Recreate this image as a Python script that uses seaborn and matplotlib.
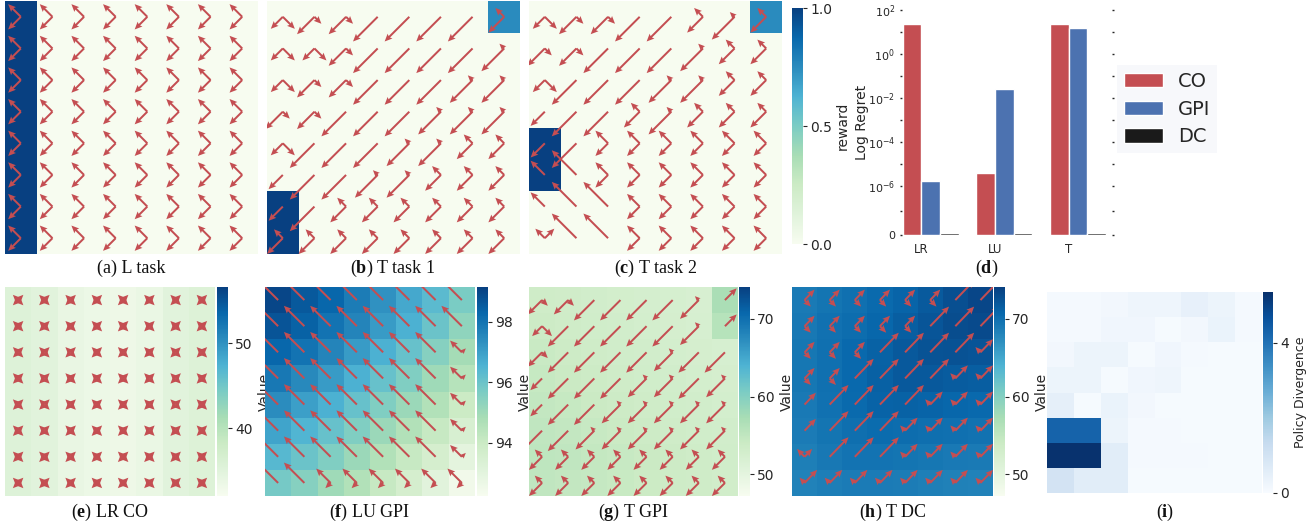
import numpy as np
import pandas as pd
import matplotlib
matplotlib.use("Agg")
import matplotlib.pyplot as plt
import seaborn as sns

# ---- data -------------------------------------------------------------
# reward maps of the three tasks (8x8 grid worlds)
reward_l = [
    [1, 0, 0, 0, 0, 0, 0, 0],
    [1, 0, 0, 0, 0, 0, 0, 0],
    [1, 0, 0, 0, 0, 0, 0, 0],
    [1, 0, 0, 0, 0, 0, 0, 0],
    [1, 0, 0, 0, 0, 0, 0, 0],
    [1, 0, 0, 0, 0, 0, 0, 0],
    [1, 0, 0, 0, 0, 0, 0, 0],
    [1, 0, 0, 0, 0, 0, 0, 0],
]
reward_t1 = [
    [0, 0, 0, 0, 0, 0, 0, 0.75],
    [0, 0, 0, 0, 0, 0, 0, 0],
    [0, 0, 0, 0, 0, 0, 0, 0],
    [0, 0, 0, 0, 0, 0, 0, 0],
    [0, 0, 0, 0, 0, 0, 0, 0],
    [0, 0, 0, 0, 0, 0, 0, 0],
    [1, 0, 0, 0, 0, 0, 0, 0],
    [1, 0, 0, 0, 0, 0, 0, 0],
]
reward_t2 = [
    [0, 0, 0, 0, 0, 0, 0, 0.75],
    [0, 0, 0, 0, 0, 0, 0, 0],
    [0, 0, 0, 0, 0, 0, 0, 0],
    [0, 0, 0, 0, 0, 0, 0, 0],
    [1, 0, 0, 0, 0, 0, 0, 0],
    [1, 0, 0, 0, 0, 0, 0, 0],
    [0, 0, 0, 0, 0, 0, 0, 0],
    [0, 0, 0, 0, 0, 0, 0, 0],
]

# value maps
value_lr_co = [
    [35.5, 35.0, 34.0, 33.5, 33.3, 33.8, 35.0, 35.6],
    [35.5, 35.0, 34.0, 33.5, 33.3, 33.8, 35.0, 35.6],
    [35.5, 35.0, 34.0, 33.5, 33.3, 33.8, 35.0, 35.6],
    [35.5, 35.0, 34.0, 33.5, 33.3, 33.8, 35.0, 35.6],
    [35.5, 35.0, 34.0, 33.5, 33.3, 33.8, 35.0, 35.6],
    [35.5, 35.0, 34.0, 33.5, 33.3, 33.8, 35.0, 35.6],
    [35.5, 35.0, 34.0, 33.5, 33.3, 33.8, 35.0, 35.6],
    [35.5, 35.0, 34.0, 33.5, 33.3, 33.8, 35.0, 35.6],
]
value_lu_gpi = [
    [99.0, 98.6, 98.3, 97.8, 97.3, 96.8, 96.3, 95.7],
    [98.7, 98.4, 98.0, 97.6, 97.1, 96.6, 96.0, 95.3],
    [98.3, 98.0, 97.6, 97.1, 96.6, 96.1, 95.5, 94.9],
    [97.9, 97.5, 97.1, 96.6, 96.1, 95.6, 95.0, 94.5],
    [97.4, 97.0, 96.6, 96.1, 95.6, 95.1, 94.6, 94.0],
    [96.9, 96.5, 96.1, 95.6, 95.1, 94.6, 94.1, 93.5],
    [96.4, 96.0, 95.6, 95.1, 94.6, 94.1, 93.6, 93.0],
    [95.8, 95.5, 95.0, 94.6, 94.1, 93.6, 93.1, 92.5],
]
value_t_gpi = [
    [53.5, 53.3, 53.0, 52.8, 52.6, 52.4, 52.2, 57.0],
    [53.8, 53.5, 53.2, 53.0, 52.7, 52.5, 52.3, 56.0],
    [54.2, 53.8, 53.5, 53.2, 53.0, 52.7, 52.5, 52.3],
    [54.5, 54.1, 53.8, 53.5, 53.2, 53.0, 52.7, 52.5],
    [54.8, 54.5, 54.1, 53.8, 53.5, 53.2, 53.0, 52.7],
    [55.0, 54.8, 54.4, 54.1, 53.8, 53.5, 53.2, 53.0],
    [55.2, 55.0, 54.7, 54.4, 54.1, 53.8, 53.5, 53.2],
    [55.0, 54.8, 54.6, 54.3, 54.0, 53.7, 53.4, 53.1],
]
value_t_dc = [
    [69.0, 69.5, 70.0, 70.5, 71.0, 71.8, 72.8, 73.5],
    [69.2, 69.8, 70.3, 70.8, 71.5, 72.3, 73.0, 73.2],
    [69.3, 70.0, 70.6, 71.2, 71.9, 72.5, 72.6, 72.4],
    [69.3, 70.0, 70.6, 71.3, 71.9, 71.9, 71.7, 71.5],
    [69.1, 69.8, 70.5, 71.1, 71.2, 71.0, 70.8, 70.6],
    [68.9, 69.5, 70.1, 70.4, 70.3, 70.1, 69.9, 69.7],
    [68.6, 69.2, 69.6, 69.6, 69.5, 69.3, 69.1, 69.0],
    [68.3, 68.7, 68.9, 68.9, 68.8, 68.6, 68.4, 68.3],
]
policy_div = [
    [0.10, 0.10, 0.15, 0.25, 0.25, 0.45, 0.30, 0.10],
    [0.10, 0.10, 0.20, 0.20, 0.05, 0.15, 0.35, 0.10],
    [0.15, 0.30, 0.30, 0.05, 0.20, 0.10, 0.05, 0.05],
    [0.30, 0.30, 0.05, 0.20, 0.25, 0.05, 0.05, 0.05],
    [0.50, 0.05, 0.35, 0.15, 0.05, 0.05, 0.05, 0.05],
    [4.30, 4.30, 0.30, 0.10, 0.10, 0.05, 0.05, 0.05],
    [5.30, 5.30, 0.60, 0.10, 0.10, 0.10, 0.05, 0.05],
    [1.00, 0.60, 0.60, 0.05, 0.05, 0.05, 0.05, 0.05],
]

# policy glyph per cell (see GLYPHS below)
policy_l = [">>>>>>>>"] * 8
policy_t1 = ["^hhLLLLk", "^^hLLLLl", "^hhLLLll", "hhLLLlll",
             "^LLLllkk", "sLLllkkk", "sLkkkkkk", "kkkkkkkk"]
policy_t2 = ["^hhLLklk", "hhLLLlkk", "^LLLllkk", "sLLklkkk",
             "sL>>>>>>", "nN>>>>>>", "nNN>>>>>", "vNN>>>>>"]
policy_lr_co = ["xxxxxxxx"] * 8
policy_lu_gpi = ["NNNNNNNN", "NNNNNNNN", "NNNNNNNc", "NNNNNNNc",
                 "NNNNNNNc", "NNNNNNNc", "NNNNNNNc", "NNrrrrrr"]
policy_t_gpi = ["hhLLLLlu", "^LLLLLlu", "hLLLLlLL", "sLLLllLl",
                "sLLlllll", "LLllllll", "kkkkkkkk", "kkkkkkkk"]
policy_t_dc = ["ggggggUU", "gggggUUU", "gggUUUUC", "ggUUUUCC",
               "uUUUUCCC", "uUUUCCCC", "vUUUCCCC", "CCCCCCCC"]

# bar chart (d)
tasks = ["LR", "LU", "T"]
methods = ["CO", "GPI", "DC"]
regret_co = [22, 3.8e-6, 22]
regret_gpi = [1.7e-6, 2.5e-2, 16]
regret_dc = [4e-8, 4e-8, 4e-8]

# ---- style ------------------------------------------------------------
RED = "#c44e52"
BAR_COLORS = ["#c44e52", "#4c72b0", "#1a1a1a"]
# arm lengths (in cells) of the arrows NE, NW, SW, SE drawn from a cell centre
GLYPHS = {
    ">": (0, .4, .4, 0), "k": (0, .28, .5, 0), "l": (0, .15, .72, 0),
    "L": (0, 0, .78, 0), "s": (0, 0, .45, 0), "^": (0, 0, .38, .38),
    "h": (0, 0, .55, .22), "n": (0, .45, 0, 0), "N": (0, .78, 0, 0),
    "r": (0, .55, .2, 0), "c": (.15, .45, 0, 0), "v": (.3, .3, 0, 0),
    "g": (.4, 0, 0, .25), "U": (.75, 0, 0, 0), "u": (.45, 0, 0, 0),
    "C": (.5, .2, 0, 0), "x": (.2, .2, .2, .2),
}
DIRS = [(1, 1), (-1, 1), (-1, -1), (1, -1)]

sns.set_style("white")
plt.rcParams["font.family"] = ["DejaVu Sans"]
plt.rcParams["mathtext.fontset"] = "custom"
plt.rcParams["mathtext.rm"] = "DejaVu Sans"
plt.rcParams["mathtext.it"] = "DejaVu Sans:italic"
plt.rcParams["mathtext.bf"] = "Liberation Serif:bold"

W, H = 1314, 526
fig = plt.figure(figsize=(W / 100, H / 100), dpi=100)


def pxAxes(x0, y0, x1, y1):
    return fig.add_axes([x0 / W, 1 - y1 / H, (x1 - x0) / W, (y1 - y0) / H])


def drawPolicy(ax, grid):
    xs, ys, us, vs = [], [], [], []
    for i, row in enumerate(grid):
        for j, code in enumerate(row):
            for (dx, dy), length in zip(DIRS, GLYPHS[code]):
                if length > 0:
                    xs.append(j + 0.5)
                    ys.append(i + 0.5)
                    us.append(dx * length)
                    vs.append(-dy * length)  # heatmap y axis points down
    ax.quiver(xs, ys, us, vs, angles="xy", scale_units="xy", scale=1,
              color=RED, units="dots", width=2.0, headwidth=3.4,
              headlength=3.8, headaxislength=3.3, zorder=3)


def styleCbar(cax, labelSize=10):
    cax.tick_params(axis="y", right=True, length=3, width=0.8,
                    labelsize=10, pad=2, color=".15")
    cax.yaxis.label.set_size(labelSize)


# ---- top row: tasks ---------------------------------------------------
top = [(5, 258, reward_l, policy_l), (267, 520, reward_t1, policy_t1),
       (529, 782, reward_t2, policy_t2)]
caxTop = pxAxes(792, 8, 803, 244)
for k, (x0, x1, rew, pol) in enumerate(top):
    ax = pxAxes(x0, 1, x1, 254)
    last = k == 2
    sns.heatmap(np.array(rew), ax=ax, cmap="GnBu", vmin=0, vmax=1,
                cbar=last, cbar_ax=caxTop if last else None,
                cbar_kws={"label": "reward", "ticks": [0, 0.5, 1]} if last else {},
                xticklabels=False, yticklabels=False)
    drawPolicy(ax, pol)
styleCbar(caxTop)
caxTop.yaxis.set_label_coords(4.0, 0.5)

# ---- (d) bar chart ----------------------------------------------------
axD = pxAxes(902, 10, 1112, 235)
df = pd.DataFrame({
    "task": tasks * 3,
    "method": [m for m in methods for _ in tasks],
    "regret": regret_co + regret_gpi + regret_dc,
})
sns.barplot(data=df, x="task", y="regret", hue="method", palette=BAR_COLORS,
            width=0.76, saturation=1, errorbar=None, ax=axD)
axD.set_yscale("symlog", linthresh=1e-6, linscale=2)
axD.set_ylim(0, 100)
axD.set_yticks([0, 1e-6, 1e-4, 1e-2, 1, 100])
axD.set_yticklabels(["0", "$10^{-6}$", "$10^{-4}$", "$10^{-2}$", "$10^{0}$", "$10^{2}$"])
axD.set_yticks([5e-7, 1e-5, 1e-3, 1e-1, 10], minor=True)
axD.set_xlim(-0.39, 2.46)
axD.set_xticks(np.arange(3) - 0.76 / 6)
axD.set_xticklabels(tasks)
axD.set_xlabel("")
axD.set_ylabel("Log Regret", fontsize=10)
axD.yaxis.set_label_coords(-0.158, 0.5)
axD.tick_params(axis="y", which="both", left=True, right=True, length=1.5,
                width=1, labelsize=8, pad=3.5, color=".15")
axD.tick_params(axis="x", length=0, labelsize=8.5, pad=6)
sns.despine(ax=axD, left=True, bottom=True)
axD.legend(loc="upper left", bbox_to_anchor=(1117 / W, 1 - 65 / H),
           bbox_transform=fig.transFigure, borderaxespad=0, fontsize=14,
           handlelength=2.0, handleheight=0.75, handletextpad=0.8,
           labelspacing=0.45, borderpad=0.35, frameon=True,
           facecolor="#f7f8fb", edgecolor="none", framealpha=1, fancybox=False)

# ---- bottom row: value maps ------------------------------------------
bottom = [
    (5, 215, 217, 228, value_lr_co, policy_lr_co, 32, 56.6, [40, 50]),
    (265, 475, 477, 488, value_lu_gpi, policy_lu_gpi, 92.25, 99.15, [94, 96, 98]),
    (529, 738, 739, 750, value_t_gpi, policy_t_gpi, 47.2, 74.1, [50, 60, 70]),
    (792, 993, 994, 1005, value_t_dc, policy_t_dc, 47.2, 74.1, [50, 60, 70]),
]
for x0, x1, c0, c1, vals, pol, vmin, vmax, ticks in bottom:
    ax = pxAxes(x0, 287, x1, 496)
    cax = pxAxes(c0, 287, c1, 496)
    sns.heatmap(np.array(vals), ax=ax, cmap="GnBu", vmin=vmin, vmax=vmax,
                cbar_ax=cax, cbar_kws={"label": "Value", "ticks": ticks},
                xticklabels=False, yticklabels=False)
    drawPolicy(ax, pol)
    styleCbar(cax)

axI = pxAxes(1047, 292, 1262, 493)
caxI = pxAxes(1263, 292, 1273, 493)
sns.heatmap(np.array(policy_div), ax=axI, cmap="Blues", vmin=0, vmax=5.36,
            cbar_ax=caxI, cbar_kws={"label": "Policy Divergence", "ticks": [0, 4]},
            xticklabels=False, yticklabels=False)
styleCbar(caxI, labelSize=9)

# ---- captions ---------------------------------------------------------
captions = [
    (131, 268, "(a) L task"), (393, 268, r"($\mathbf{b}$) T task 1"),
    (656, 268, r"($\mathbf{c}$) T task 2"), (987, 268, r"($\mathbf{d}$)"),
    (110, 512, r"($\mathbf{e}$) LR CO"), (370, 512, r"($\mathbf{f}$) LU GPI"),
    (634, 512, r"($\mathbf{g}$) T GPI"), (893, 512, r"($\mathbf{h}$) T DC"),
    (1165, 512, r"($\mathbf{i}$)"),
]
for x, y, txt in captions:
    fig.text(x / W, 1 - y / H, txt, ha="center", va="center", fontsize=13,
             family="Liberation Serif", color="#111111")

fig.savefig("out.png", dpi=100)
